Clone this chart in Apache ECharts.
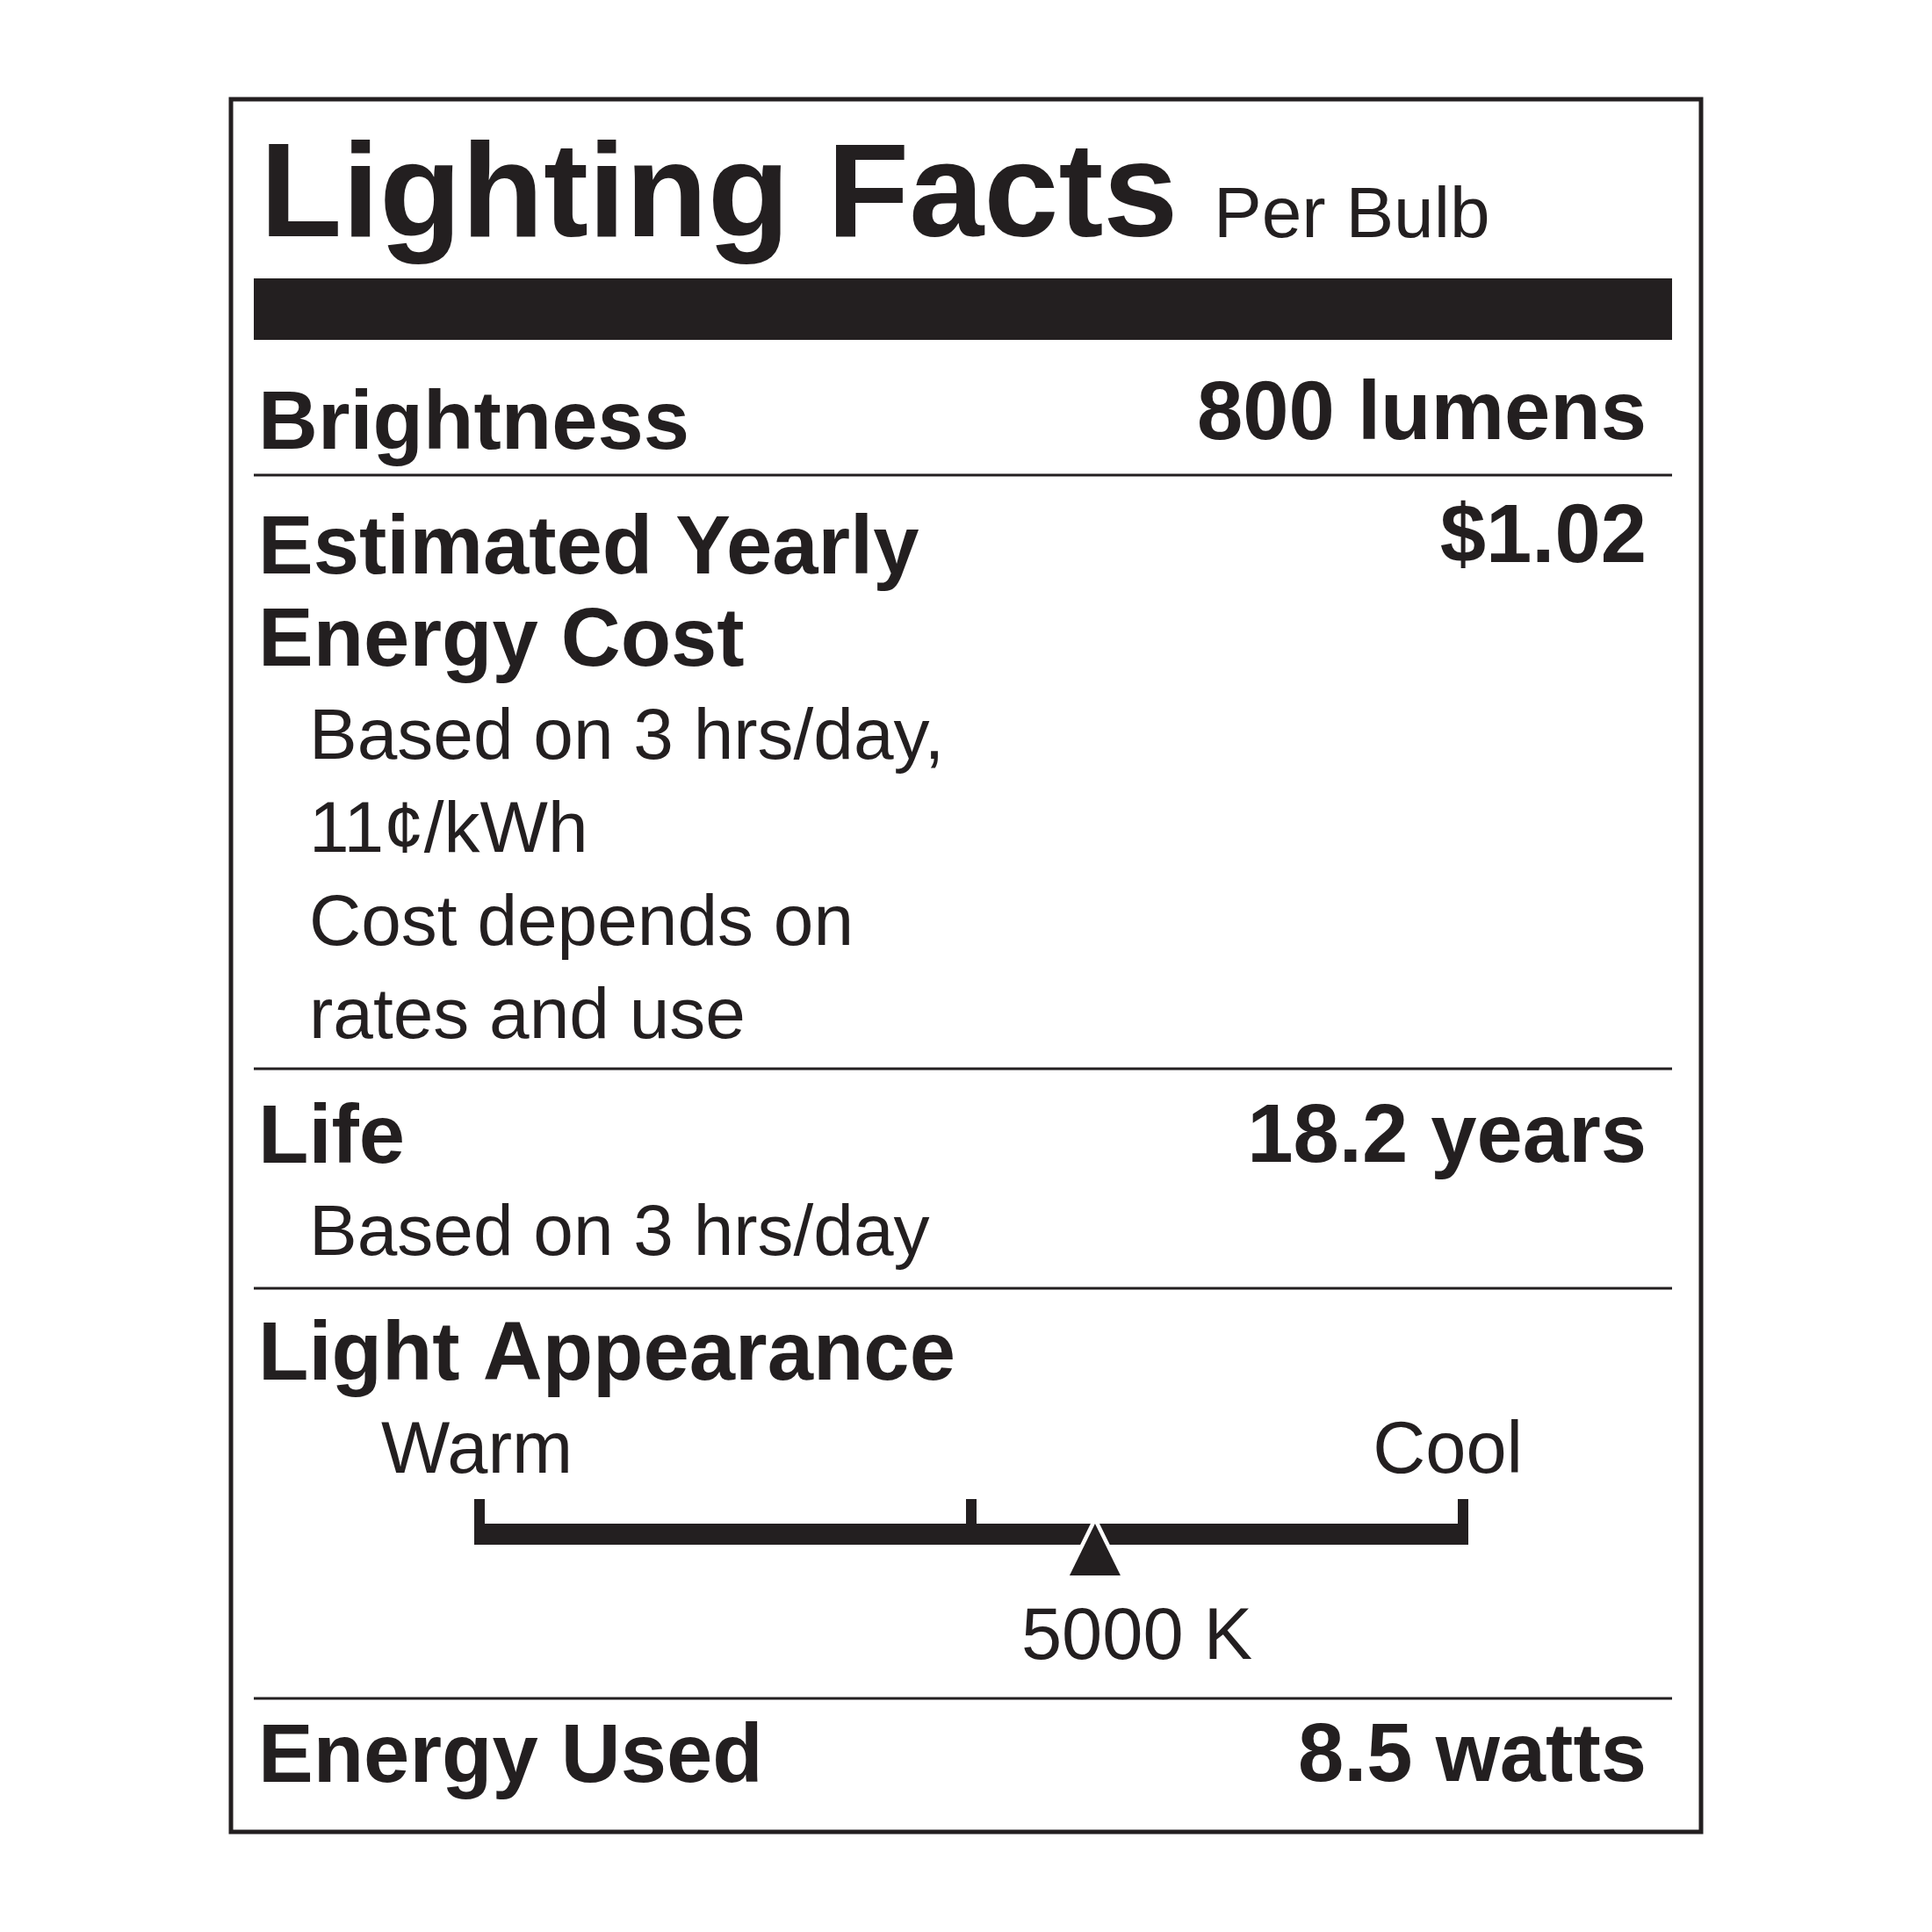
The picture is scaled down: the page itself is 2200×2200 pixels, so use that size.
<!DOCTYPE html>
<html>
<head>
<meta charset="utf-8">
<script src="https://cdn.jsdelivr.net/npm/echarts@6/dist/echarts.min.js"></script>
<style>
  html, body { margin: 0; padding: 0; background: #ffffff; }
  #chart { width: 2200px; height: 2200px; }
</style>
</head>
<body>
<div id="chart"></div>
<script>
// ---- data ----
const titleText = 'Lighting Facts';
const subtitleText = 'Per Bulb';
const rowLabels = ['Brightness', 'Estimated Yearly', 'Energy Cost', 'Life', 'Light Appearance', 'Energy Used'];
const rowValues = ['800 lumens', '$1.02', '18.2 years', '8.5 watts'];
const costNotes = ['Based on 3 hrs/day,', '11\u00a2/kWh', 'Cost depends on', 'rates and use'];
const lifeNotes = ['Based on 3 hrs/day'];
const scaleEndLabels = ['Warm', 'Cool'];
const scaleRange = [2700, 6375];          // Kelvin span of the warm-cool scale
const colorTemperature = [5000];          // marker value (K)
const colorTemperatureUnit = 'K';

// ---- style ----
const INK = '#231f20';
const FONT = "'Liberation Sans', Arial, Helvetica, sans-serif";
const MID = 0.295; // offset (em) from 'middle' anchor to the alphabetic baseline

function txt(s, x, baseline, fs, bold, align) {
  return {
    type: 'text', x: x, y: baseline - MID * fs, silent: true,
    style: {
      text: s, fill: INK, fontFamily: FONT, fontSize: fs,
      fontWeight: bold ? 'bold' : 'normal',
      textAlign: align || 'left', textVerticalAlign: 'middle'
    }
  };
}
function hline(y, w) {
  return { type: 'rect', silent: true, shape: { x: 289, y: y - w / 2, width: 1615, height: w }, style: { fill: INK } };
}

const LX = 294, NX = 352, RX = 1875, BF = 94, NF = 82;

const graphics = [
  { type: 'rect', silent: true, shape: { x: 263, y: 113, width: 1674, height: 1973 },
    style: { fill: 'none', stroke: INK, lineWidth: 5 } },
  txt(titleText, 296, 272, 153, true),
  txt(subtitleText, 1382, 272, NF, false),
  { type: 'rect', silent: true, shape: { x: 289, y: 317, width: 1615, height: 70 }, style: { fill: INK } },
  txt(rowLabels[0], LX, 513, BF, true),
  txt(rowValues[0], RX, 502, BF, true, 'right'),
  hline(541, 3),
  txt(rowLabels[1], LX, 655, BF, true),
  txt(rowLabels[2], LX, 760, BF, true),
  txt(rowValues[1], RX, 642, BF, true, 'right'),
  hline(1217, 3),
  txt(rowLabels[3], LX, 1326, BF, true),
  txt(rowValues[2], RX, 1325, BF, true, 'right'),
  hline(1467, 3),
  txt(rowLabels[4], LX, 1573, BF, true),
  txt(scaleEndLabels[0], 434, 1679, 83, false),
  txt(scaleEndLabels[1], 1734, 1679, 83, false, 'right'),
  hline(1934, 3),
  txt(rowLabels[5], LX, 2031, BF, true),
  txt(rowValues[3], RX, 2030, BF, true, 'right')
];
costNotes.forEach(function (s, i) { graphics.push(txt(s, NX, 866 + i * 105.7, NF, false)); });
lifeNotes.forEach(function (s, i) { graphics.push(txt(s, NX, 1431 + i * 105.7, NF, false)); });

const scaleTicks = [scaleRange[0], (scaleRange[0] + scaleRange[1]) / 2, scaleRange[1]];

const chart = echarts.init(document.getElementById('chart'), null, { renderer: 'canvas' });
chart.setOption({
  backgroundColor: '#ffffff',
  animation: false,
  graphic: graphics,
  grid: { left: 546, width: 1120, top: 1707, height: 52 },
  xAxis: { type: 'value', min: scaleRange[0], max: scaleRange[1], show: false },
  yAxis: { type: 'value', min: 0, max: 1, show: false },
  series: [
    {
      type: 'custom', clip: false, silent: true,
      data: [[scaleRange[0], scaleRange[1]]],
      renderItem: function (params, api) {
        const a = api.coord([api.value(0), 0]);
        const b = api.coord([api.value(1), 0]);
        return { type: 'rect', shape: { x: a[0] - 6, y: a[1] - 24, width: b[0] - a[0] + 12, height: 24 }, style: { fill: INK } };
      }
    },
    {
      type: 'custom', clip: false, silent: true,
      data: scaleTicks.map(function (v) { return [v]; }),
      renderItem: function (params, api) {
        const p = api.coord([api.value(0), 0]);
        const top = api.coord([api.value(0), 1]);
        return { type: 'rect', shape: { x: p[0] - 6, y: top[1], width: 12, height: p[1] - top[1] }, style: { fill: INK } };
      }
    },
    {
      type: 'custom', clip: false, silent: true,
      data: colorTemperature.map(function (v) { return [v]; }),
      renderItem: function (params, api) {
        const v = api.value(0);
        const p = api.coord([v, 0]);
        const apexY = p[1] - 24, baseY = p[1] + 35, hw = 29;
        const pts = [[p[0], apexY], [p[0] - hw, baseY], [p[0] + hw, baseY]];
        return {
          type: 'group',
          children: [
            { type: 'polygon', shape: { points: pts }, style: { fill: '#ffffff', stroke: '#ffffff', lineWidth: 9, lineJoin: 'miter' } },
            { type: 'polygon', shape: { points: pts }, style: { fill: INK } },
            { type: 'text', x: p[0] - 84, y: 1891 - MID * 83,
              style: { text: v + ' ' + colorTemperatureUnit, fill: INK, fontFamily: FONT, fontSize: 83,
                       textAlign: 'left', textVerticalAlign: 'middle' } }
          ]
        };
      }
    }
  ]
});
</script>
</body>
</html>
